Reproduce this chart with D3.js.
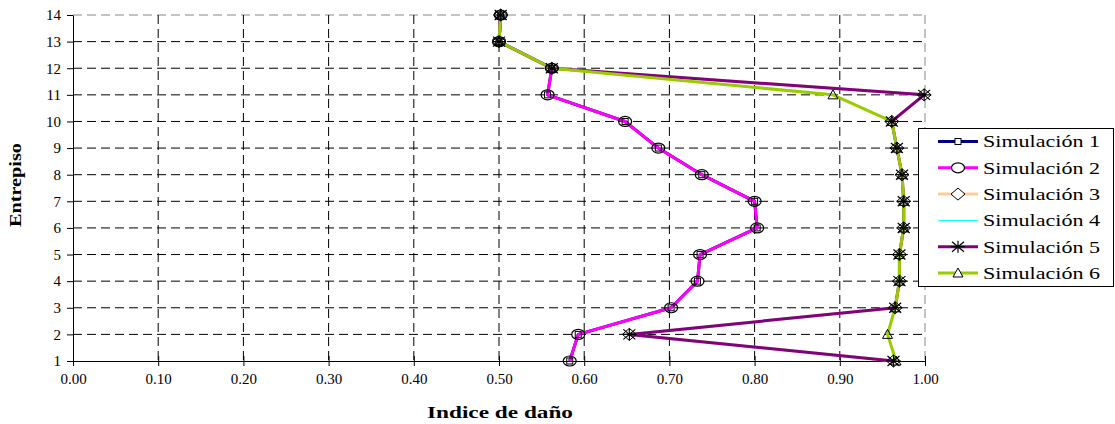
<!DOCTYPE html>
<html><head><meta charset="utf-8">
<script src="https://cdn.jsdelivr.net/npm/d3@7"></script>
<style>body{margin:0;background:#fff}svg{display:block}</style>
</head><body>
<script>
const floors = [1,2,3,4,5,6,7,8,9,10,11,12,13,14];
const sim1 = [0.583,0.593,0.702,0.733,0.736,0.803,0.800,0.738,0.687,0.648,0.557,0.562,0.500,0.502];
const sim2 = [0.583,0.593,0.702,0.733,0.736,0.803,0.800,0.738,0.687,0.648,0.557,0.562,0.500,0.502];
const sim3 = [0.963,0.653,0.965,0.970,0.970,0.975,0.975,0.973,0.967,0.961,0.999,0.562,0.500,0.502];
const sim4 = [0.963,0.653,0.965,0.970,0.970,0.975,0.975,0.973,0.967,0.961,0.999,0.562,0.500,0.502];
const sim5 = [0.963,0.653,0.965,0.970,0.970,0.975,0.975,0.973,0.967,0.961,0.999,0.562,0.500,0.502];
const sim6 = [0.966,0.956,0.965,0.970,0.970,0.975,0.975,0.973,0.967,0.961,0.892,0.562,0.500,0.502];
const seriesNames = ["Simulación 1","Simulación 2","Simulación 3","Simulación 4","Simulación 5","Simulación 6"];
const xTicks = [0,0.1,0.2,0.3,0.4,0.5,0.6,0.7,0.8,0.9,1.0];
const yTicks = [1,2,3,4,5,6,7,8,9,10,11,12,13,14];
const xTitle = "Indice de daño";
const yTitle = "Entrepiso";

const styles = [
  {color:"#000080", w:3, marker:"square"},
  {color:"#ff00ff", w:3, marker:"circle"},
  {color:"#ffcc99", w:3, marker:"diamond"},
  {color:"#00ffff", w:1, marker:"none"},
  {color:"#800080", w:3, marker:"star"},
  {color:"#99cc00", w:3, marker:"triangle"}
];
const allSeries = [sim1,sim2,sim3,sim4,sim5,sim6];
const FF = '"Liberation Serif"';

const W=1115,H=424;
const L=73,R=925,T=15,B=361;
const svg=d3.select("body").append("svg").attr("width",W).attr("height",H);
svg.append("rect").attr("width",W).attr("height",H).attr("fill","#fff");
const x=d3.scaleLinear().domain([0,1]).range([L,R]);
const y=d3.scaleLinear().domain([1,14]).range([B,T]);

// grid
const g=svg.append("g");
g.selectAll(".hg").data(yTicks.filter(d=>d>1)).join("line")
 .attr("x1",L).attr("x2",R).attr("y1",d=>y(d)).attr("y2",d=>y(d))
 .attr("stroke",d=>d===14?"#888":"#000").attr("stroke-width",1).attr("stroke-dasharray","9,5");
g.selectAll(".vg").data(xTicks.filter(d=>d>0)).join("line")
 .attr("y1",T).attr("y2",B).attr("x1",d=>x(d)).attr("x2",d=>x(d))
 .attr("stroke",d=>d===1?"#888":"#000").attr("stroke-width",1).attr("stroke-dasharray","9,5");

// axes
const xAxis=d3.axisBottom(x).tickValues(xTicks).tickFormat(d3.format(".2f")).tickSize(5).tickSizeOuter(0);
const gx=svg.append("g").attr("transform",`translate(0,${B})`).call(xAxis);
gx.select(".domain").attr("stroke","#000");
gx.selectAll(".tick line").attr("y1",-5).attr("y2",5).attr("stroke","#000");
gx.selectAll("text").style("font-family",FF).style("font-size","15px").attr("fill","#000").attr("dy","0.71em").attr("y",12);
const yAxis=d3.axisLeft(y).tickValues(yTicks).tickFormat(d3.format("d")).tickSize(6).tickSizeOuter(0);
const gy=svg.append("g").attr("transform",`translate(${L},0)`).call(yAxis);
gy.select(".domain").attr("stroke","#000");
gy.selectAll(".tick line").attr("stroke","#000");
gy.selectAll("text").style("font-family",FF).style("font-size","15px").attr("fill","#000").attr("x",-12);

// titles
svg.append("text").attr("x",500).attr("y",418).attr("text-anchor","middle")
 .style("font-family",FF).style("font-weight","bold").style("font-size","17px")
 .attr("textLength",146).attr("lengthAdjust","spacingAndGlyphs").text(xTitle);
svg.append("text").attr("transform","translate(21,185) rotate(-90)").attr("text-anchor","middle")
 .style("font-family",FF).style("font-weight","bold").style("font-size","16px")
 .attr("textLength",84).attr("lengthAdjust","spacingAndGlyphs").text(yTitle);

// lines
const line=d3.line().x(d=>x(d[0])).y(d=>y(d[1]));
allSeries.forEach((s,i)=>{
  const pts=s.map((v,j)=>[v,floors[j]]);
  svg.append("path").attr("d",line(pts)).attr("fill","none")
   .attr("stroke",styles[i].color).attr("stroke-width",styles[i].w).attr("stroke-linejoin","round");
});

function drawMarker(sel,type,cx,cy,fill){
  if(type==="square") sel.append("rect").attr("x",cx-3).attr("y",cy-3).attr("width",6).attr("height",6).attr("fill",fill).attr("stroke","#000").attr("stroke-width",1);
  else if(type==="circle") sel.append("ellipse").attr("cx",cx).attr("cy",cy).attr("rx",6.5).attr("ry",5).attr("fill",fill).attr("stroke","#000").attr("stroke-width",1.2);
  else if(type==="diamond") sel.append("path").attr("d",`M${cx},${cy-6}L${cx+7},${cy}L${cx},${cy+6}L${cx-7},${cy}Z`).attr("fill",fill).attr("stroke","#000").attr("stroke-width",1);
  else if(type==="triangle") sel.append("path").attr("d",`M${cx},${cy-5}L${cx+5},${cy+4}L${cx-5},${cy+4}Z`).attr("fill",fill).attr("stroke","#000").attr("stroke-width",1);
  else if(type==="star") sel.append("path").attr("d",`M${cx-6},${cy-5}L${cx+6},${cy+5}M${cx-6},${cy+5}L${cx+6},${cy-5}M${cx},${cy-6}L${cx},${cy+6}M${cx-7},${cy}L${cx+7},${cy}`).attr("fill","none").attr("stroke","#000").attr("stroke-width",1.2);
}
allSeries.forEach((s,i)=>{
  if(styles[i].marker==="none") return;
  const mg=svg.append("g");
  s.forEach((v,j)=>drawMarker(mg,styles[i].marker,x(v),y(floors[j]),"none"));
});

// legend
const lg=svg.append("g");
lg.append("rect").attr("x",918.5).attr("y",128.5).attr("width",195).attr("height",158).attr("fill","#fff").attr("stroke","#000");
seriesNames.forEach((n,i)=>{
  const yy=141.5+i*26.3;
  lg.append("line").attr("x1",938).attr("x2",978).attr("y1",yy).attr("y2",yy).attr("stroke",styles[i].color).attr("stroke-width",styles[i].w);
  if(styles[i].marker!=="none") drawMarker(lg,styles[i].marker,958,yy,"#fff");
  lg.append("text").attr("x",983).attr("y",yy).attr("dy","0.35em").style("font-family",FF).style("font-size","17px")
   .attr("textLength",117).attr("lengthAdjust","spacingAndGlyphs").text(n);
});
</script>
</body></html>
